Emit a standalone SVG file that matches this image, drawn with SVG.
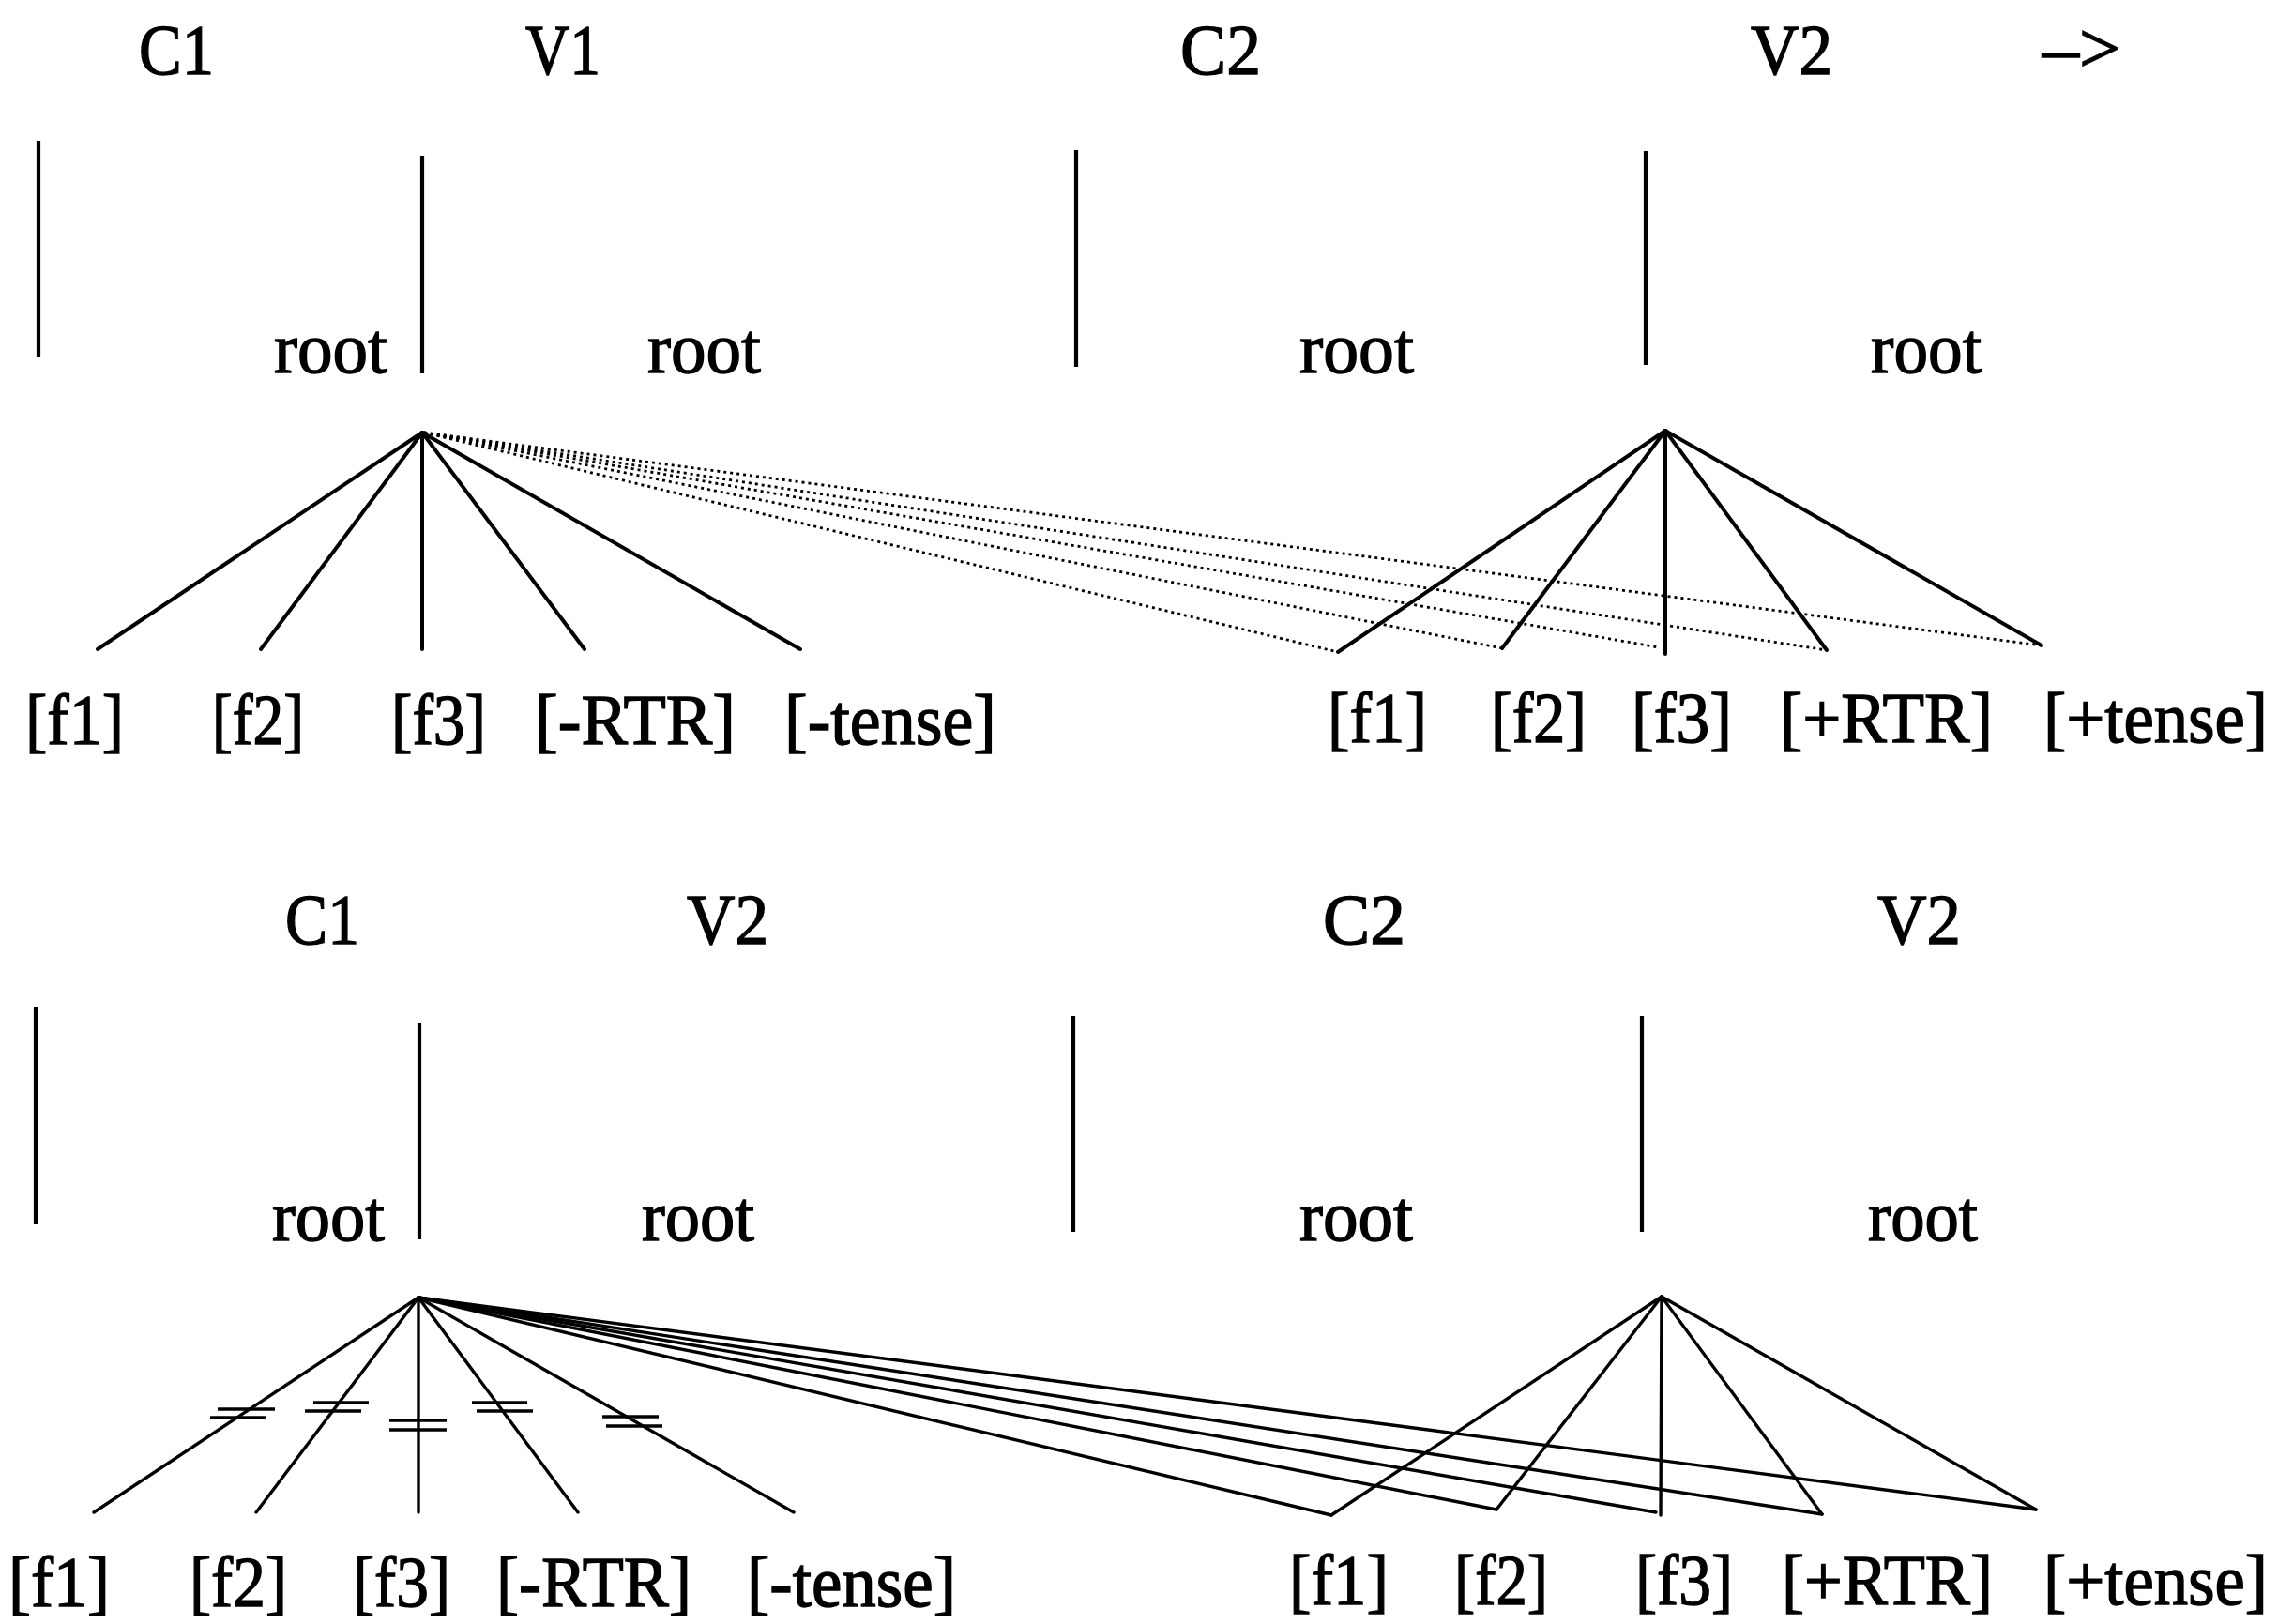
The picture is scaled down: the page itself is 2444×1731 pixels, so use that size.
<svg xmlns="http://www.w3.org/2000/svg" width="2444" height="1731" viewBox="0 0 2444 1731">
<style>
  text { font-family: "Liberation Serif", "Times New Roman", serif; font-size: 77px; fill: #000; stroke: #000; stroke-width: 1.4px; }
  .tier { stroke: #000; stroke-width: 4.2; fill: none; }
  .br { stroke: #000; stroke-width: 4; fill: none; stroke-linecap: round; }
  .brb { stroke: #000; stroke-width: 3.4; fill: none; stroke-linecap: round; }
  .dot { stroke: #000; stroke-width: 2.8; fill: none; stroke-dasharray: 3 4; }
  .bar { stroke: #000; stroke-width: 3.4; fill: none; }
</style>
<rect width="2444" height="1731" fill="#fff"/>

<!-- ===== TOP DIAGRAM ===== -->
<g id="top-headings">
  <text x="148" y="79" textLength="80" lengthAdjust="spacingAndGlyphs">C1</text>
  <text x="560" y="79" textLength="80" lengthAdjust="spacingAndGlyphs">V1</text>
  <text x="1258" y="79" textLength="86" lengthAdjust="spacingAndGlyphs">C2</text>
  <text x="1866" y="79" textLength="87" lengthAdjust="spacingAndGlyphs">V2</text>
  <text x="2177" y="77" textLength="83" lengthAdjust="spacingAndGlyphs">–&gt;</text>
</g>
<g id="top-tiers">
  <line class="tier" x1="41" y1="150" x2="41" y2="380"/>
  <line class="tier" x1="450" y1="166" x2="450" y2="398"/>
  <line class="tier" x1="1147" y1="160" x2="1147" y2="391"/>
  <line class="tier" x1="1754" y1="161" x2="1754" y2="389"/>
</g>
<g id="top-root-C1"><text x="292" y="397" textLength="121" lengthAdjust="spacingAndGlyphs">root</text></g>
<g id="top-root-V1"><text x="690" y="397" textLength="121" lengthAdjust="spacingAndGlyphs">root</text></g>
<g id="top-root-C2"><text x="1385" y="397" textLength="122" lengthAdjust="spacingAndGlyphs">root</text></g>
<g id="top-root-V2"><text x="1994" y="397" textLength="118" lengthAdjust="spacingAndGlyphs">root</text></g>

<g id="top-features-V1">
  <text x="27" y="793" textLength="105" lengthAdjust="spacingAndGlyphs">[f1]</text>
  <text x="226" y="793" textLength="98" lengthAdjust="spacingAndGlyphs">[f2]</text>
  <text x="417" y="793" textLength="101" lengthAdjust="spacingAndGlyphs">[f3]</text>
  <text x="570" y="793" textLength="214" lengthAdjust="spacingAndGlyphs">[-RTR]</text>
  <text x="836" y="793" textLength="226" lengthAdjust="spacingAndGlyphs">[-tense]</text>
</g>
<g id="top-features-V2">
  <text x="1415" y="791" textLength="106" lengthAdjust="spacingAndGlyphs">[f1]</text>
  <text x="1589" y="791" textLength="102" lengthAdjust="spacingAndGlyphs">[f2]</text>
  <text x="1739" y="791" textLength="107" lengthAdjust="spacingAndGlyphs">[f3]</text>
  <text x="1897" y="791" textLength="227" lengthAdjust="spacingAndGlyphs">[+RTR]</text>
  <text x="2178" y="791" textLength="239" lengthAdjust="spacingAndGlyphs">[+tense]</text>
</g>

<g id="top-connectors">
  <line class="br" x1="450" y1="461" x2="104" y2="692"/>
  <line class="br" x1="450" y1="461" x2="278" y2="692"/>
  <line class="br" x1="450" y1="461" x2="450" y2="692"/>
  <line class="br" x1="450" y1="461" x2="623" y2="692"/>
  <line class="br" x1="450" y1="461" x2="853" y2="692"/>
  <line class="br" x1="1775" y1="459" x2="1426" y2="695"/>
  <line class="br" x1="1775" y1="459" x2="1601" y2="691"/>
  <line class="br" x1="1775" y1="459" x2="1775" y2="697"/>
  <line class="br" x1="1775" y1="459" x2="1947" y2="693"/>
  <line class="br" x1="1775" y1="459" x2="2176" y2="688"/>
  <line class="dot" x1="452" y1="461" x2="1426" y2="695"/>
  <line class="dot" x1="452" y1="461" x2="1601" y2="691"/>
  <line class="dot" x1="452" y1="461" x2="1768" y2="690"/>
  <line class="dot" x1="452" y1="461" x2="1947" y2="693"/>
  <line class="dot" x1="452" y1="461" x2="2176" y2="688"/>
</g>

<!-- ===== BOTTOM DIAGRAM ===== -->
<g id="bottom-headings">
  <text x="304" y="1006" textLength="79" lengthAdjust="spacingAndGlyphs">C1</text>
  <text x="732" y="1006" textLength="87" lengthAdjust="spacingAndGlyphs">V2</text>
  <text x="1410" y="1006" textLength="88" lengthAdjust="spacingAndGlyphs">C2</text>
  <text x="2001" y="1006" textLength="89" lengthAdjust="spacingAndGlyphs">V2</text>
</g>
<g id="bottom-tiers">
  <line class="tier" x1="38" y1="1073" x2="38" y2="1305"/>
  <line class="tier" x1="447" y1="1090" x2="447" y2="1321"/>
  <line class="tier" x1="1144" y1="1083" x2="1144" y2="1313"/>
  <line class="tier" x1="1750" y1="1083" x2="1750" y2="1313"/>
</g>
<g id="bottom-root-C1"><text x="290" y="1322" textLength="120" lengthAdjust="spacingAndGlyphs">root</text></g>
<g id="bottom-root-V2a"><text x="684" y="1322" textLength="120" lengthAdjust="spacingAndGlyphs">root</text></g>
<g id="bottom-root-C2"><text x="1385" y="1322" textLength="121" lengthAdjust="spacingAndGlyphs">root</text></g>
<g id="bottom-root-V2b"><text x="1991" y="1322" textLength="117" lengthAdjust="spacingAndGlyphs">root</text></g>

<g id="bottom-features-V2a">
  <text x="9" y="1712" textLength="108" lengthAdjust="spacingAndGlyphs">[f1]</text>
  <text x="202" y="1712" textLength="104" lengthAdjust="spacingAndGlyphs">[f2]</text>
  <text x="376" y="1712" textLength="104" lengthAdjust="spacingAndGlyphs">[f3]</text>
  <text x="529" y="1712" textLength="208" lengthAdjust="spacingAndGlyphs">[-RTR]</text>
  <text x="796" y="1712" textLength="223" lengthAdjust="spacingAndGlyphs">[-tense]</text>
</g>
<g id="bottom-features-V2b">
  <text x="1374" y="1710" textLength="106" lengthAdjust="spacingAndGlyphs">[f1]</text>
  <text x="1550" y="1710" textLength="100" lengthAdjust="spacingAndGlyphs">[f2]</text>
  <text x="1743" y="1710" textLength="104" lengthAdjust="spacingAndGlyphs">[f3]</text>
  <text x="1899" y="1710" textLength="225" lengthAdjust="spacingAndGlyphs">[+RTR]</text>
  <text x="2178" y="1710" textLength="239" lengthAdjust="spacingAndGlyphs">[+tense]</text>
</g>

<g id="bottom-connectors">
  <line class="brb" x1="446" y1="1383" x2="100" y2="1612"/>
  <line class="brb" x1="446" y1="1383" x2="273" y2="1612"/>
  <line class="brb" x1="446" y1="1383" x2="446" y2="1612"/>
  <line class="brb" x1="446" y1="1383" x2="616" y2="1612"/>
  <line class="brb" x1="446" y1="1383" x2="846" y2="1612"/>
  <line class="brb" x1="1771" y1="1382" x2="1419" y2="1615"/>
  <line class="brb" x1="1771" y1="1382" x2="1595" y2="1609"/>
  <line class="brb" x1="1771" y1="1382" x2="1770" y2="1615"/>
  <line class="brb" x1="1771" y1="1382" x2="1942" y2="1614"/>
  <line class="brb" x1="1771" y1="1382" x2="2170" y2="1609"/>
  <line class="brb" x1="446" y1="1383" x2="1419" y2="1615"/>
  <line class="brb" x1="446" y1="1383" x2="1595" y2="1609"/>
  <line class="brb" x1="446" y1="1383" x2="1765" y2="1612"/>
  <line class="brb" x1="446" y1="1383" x2="1942" y2="1614"/>
  <line class="brb" x1="446" y1="1383" x2="2170" y2="1609"/>
</g>
<g id="delinking-marks">
  <line class="bar" x1="232" y1="1502" x2="293" y2="1502"/>
  <line class="bar" x1="224" y1="1511" x2="284" y2="1511"/>
  <line class="bar" x1="334" y1="1495" x2="393" y2="1495"/>
  <line class="bar" x1="325" y1="1504" x2="385" y2="1504"/>
  <line class="bar" x1="415" y1="1514" x2="476" y2="1514"/>
  <line class="bar" x1="415" y1="1524" x2="476" y2="1524"/>
  <line class="bar" x1="503" y1="1495" x2="562" y2="1495"/>
  <line class="bar" x1="508" y1="1504" x2="568" y2="1504"/>
  <line class="bar" x1="642" y1="1510" x2="702" y2="1510"/>
  <line class="bar" x1="646" y1="1520" x2="706" y2="1520"/>
</g>
</svg>
